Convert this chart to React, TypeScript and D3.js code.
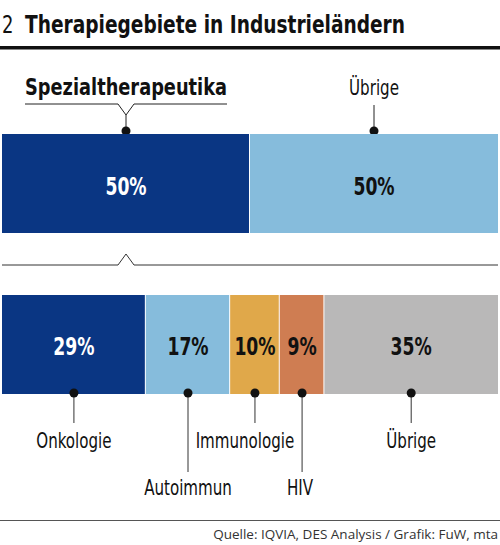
import React from "react";
import * as d3 from "d3";

// Oberer Balken
const topCategories = ["Spezialtherapeutika", "Übrige"];
const topValues = [50, 50];

// Unterer Balken
const bottomCategories = ["Onkologie", "Autoimmun", "Immunologie", "HIV", "Übrige"];
const bottomValues = [29, 17, 10, 9, 35];

const topColors = ["#0a3683", "#86bcdc"];
const bottomColors = ["#0a3683", "#86bcdc", "#e0a84a", "#cf7d52", "#b9b8b8"];

const title = "Therapiegebiete in Industrieländern";
const source = "Quelle: IQVIA, DES Analysis / Grafik: FuW, mta";

const W = 500;
const H = 545;
const COND = "'DejaVu Sans Condensed', 'Liberation Sans Narrow', sans-serif";

type Seg = { name: string; value: number; x0: number; x1: number; color: string };

const stack = (names: string[], values: number[], colors: string[]) => {
  const total = d3.sum(values);
  const x = d3.scaleLinear().domain([0, total]).range([2, 498]);
  let acc = 0;
  return names.map((name, i): Seg => {
    const s = { name, value: values[i], x0: x(acc), x1: x(acc + values[i]), color: colors[i] };
    acc += values[i];
    return s;
  });
};

// Beschriftungslage unten: Linienlänge und Textversatz
const bottomLayout: Record<string, { long: boolean; dx: number }> = {
  Onkologie: { long: false, dx: 0 },
  Autoimmun: { long: true, dx: 0 },
  Immunologie: { long: false, dx: -10 },
  HIV: { long: true, dx: -2 },
  Übrige: { long: false, dx: 0 },
};

// schmale Schrift durch horizontale Stauchung
const CText = ({ x, y, sx = 0.78, size = 21.5, bold = false, fill = "#111", anchor = "middle", children }: any) => (
  <text
    transform={`translate(${x},${y}) scale(${sx},1)`}
    textAnchor={anchor}
    fontFamily={COND}
    fontSize={size}
    fontWeight={bold ? "bold" : "normal"}
    fill={fill}
  >
    {children}
  </text>
);

export default function App() {
  const top = stack(topCategories, topValues, topColors);
  const bottom = stack(bottomCategories, bottomValues, bottomColors);
  const topY = [134, 233];
  const botY = [295, 394];
  const mid = (s: Seg) => (s.x0 + s.x1) / 2;
  const spez = mid(top[0]);

  return (
    <svg
      width={W}
      height={H}
      style={{ position: "absolute", left: 0, top: 0, background: "#fff" }}
    >
      {/* Titel */}
      <CText x={2} y={33} size={25} anchor="start" sx={0.8}>2</CText>
      <text x={25} y={33} fontFamily={COND} fontSize={25} fontWeight="bold" fill="#111"
        textLength={380} lengthAdjust="spacingAndGlyphs">{title}</text>
      <rect x={0} y={46} width={W} height={3.5} fill="#111" />

      {/* Obere Beschriftung */}
      <text x={25} y={95} fontFamily={COND} fontSize={23} fontWeight="bold" fill="#111"
        textLength={202} lengthAdjust="spacingAndGlyphs">{top[0].name}</text>
      <path
        d={`M25,104 H${spez - 8} L${spez},115 L${spez + 8},104 H227 M${spez},115 V${topY[0] - 3}`}
        fill="none" stroke="#222" strokeWidth={1}
      />
      <circle cx={spez} cy={topY[0] - 3} r={4.5} fill="#111" />
      <CText x={mid(top[1])} y={95}>{top[1].name}</CText>
      <line x1={mid(top[1])} x2={mid(top[1])} y1={105} y2={topY[0] - 3} stroke="#222" strokeWidth={1} />
      <circle cx={mid(top[1])} cy={topY[0] - 3} r={4.5} fill="#111" />

      {/* Oberer Balken */}
      {top.map((s, i) => (
        <g key={s.name}>
          <rect x={s.x0} y={topY[0]} width={s.x1 - s.x0 - (i < top.length - 1 ? 1 : 0)}
            height={topY[1] - topY[0]} fill={s.color} />
          <CText x={mid(s)} y={195} size={24.5} sx={0.78} bold fill={i === 0 ? "#fff" : "#111"}>
            {s.value}%
          </CText>
        </g>
      ))}

      {/* Klammer */}
      <path d={`M2,265 H${spez - 8} L${spez},254 L${spez + 8},265 H498`}
        fill="none" stroke="#333" strokeWidth={1} />

      {/* Unterer Balken */}
      {bottom.map((s, i) => (
        <g key={s.name}>
          <rect x={s.x0} y={botY[0]} width={s.x1 - s.x0 - (i < bottom.length - 1 ? 1 : 0)}
            height={botY[1] - botY[0]} fill={s.color} />
          <CText x={mid(s)} y={355} size={24.5} sx={0.78} bold fill={i === 0 ? "#fff" : "#111"}>
            {s.value}%
          </CText>
        </g>
      ))}

      {/* Untere Beschriftungen */}
      {bottom.map((s) => {
        const lay = bottomLayout[s.name];
        const y2 = lay.long ? 472 : 423;
        const ty = lay.long ? 495 : 448;
        return (
          <g key={`l-${s.name}`}>
            <line x1={mid(s)} x2={mid(s)} y1={botY[1]} y2={y2} stroke="#333" strokeWidth={1} />
            <circle cx={mid(s)} cy={botY[1] - 1} r={4.5} fill="#111" />
            <CText x={mid(s) + lay.dx} y={ty}>{s.name}</CText>
          </g>
        );
      })}

      {/* Fußzeile */}
      <line x1={0} x2={W} y1={520.5} y2={520.5} stroke="#555" strokeWidth={1.2} />
      <text x={498} y={539} textAnchor="end" fontFamily="'Open Sans', 'Noto Sans', sans-serif"
        fontSize={13.5} fill="#333">{source}</text>
    </svg>
  );
}
